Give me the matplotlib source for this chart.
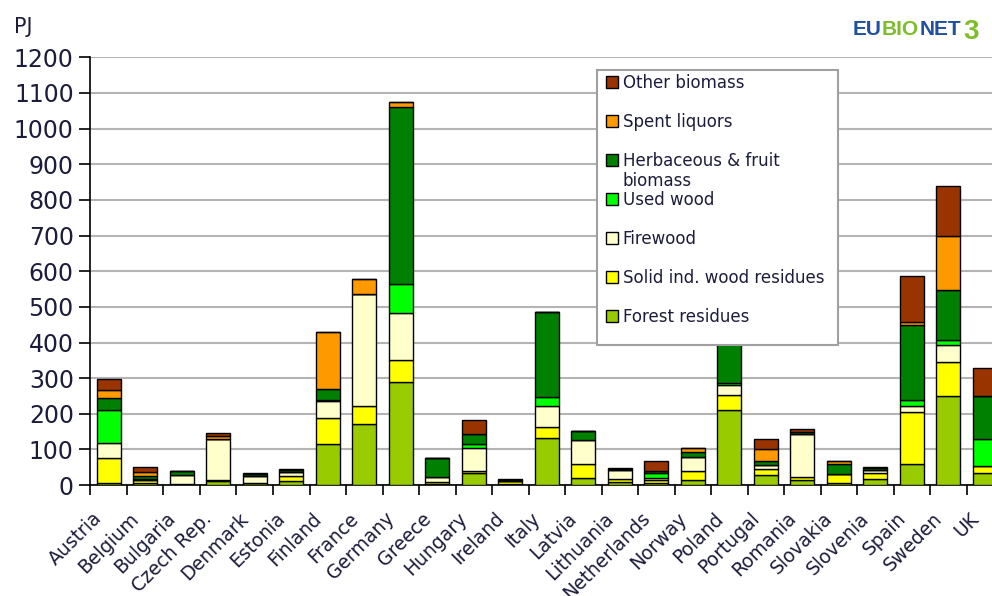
import numpy as np
import matplotlib.pyplot as plt
from matplotlib.patches import Rectangle
from matplotlib.transforms import ScaledTranslation

countries = ["Austria", "Belgium", "Bulgaria", "Czech Rep.", "Denmark", "Estonia", "Finland",
             "France", "Germany", "Greece", "Hungary", "Ireland", "Italy", "Latvia", "Lithuania",
             "Netherlands", "Norway", "Poland", "Portugal", "Romania", "Slovakia", "Slovenia",
             "Spain", "Sweden", "UK"]

# PJ per fuel type
forest = [5, 5, 2, 12, 6, 12, 115, 171, 290, 4, 33, 2, 133, 20, 8, 5, 14, 210, 28, 14, 5, 18, 60, 250, 34]
solid = [71, 10, 0, 2, 0, 14, 72, 50, 62, 4, 8, 10, 31, 38, 10, 10, 26, 43, 17, 8, 26, 16, 145, 95, 19]
firewood = [42, 0, 26, 114, 20, 12, 50, 316, 131, 15, 64, 0, 58, 68, 25, 4, 40, 28, 11, 122, 0, 9, 18, 47, 0]
used_wood = [94, 2, 0, 0, 0, 0, 3, 0, 81, 0, 9, 0, 24, 0, 0, 14, 0, 5, 0, 0, 0, 0, 16, 14, 77]
herbaceous = [32, 10, 13, 0, 5, 4, 31, 0, 495, 53, 29, 3, 240, 25, 2, 8, 13, 140, 13, 6, 27, 4, 209, 142, 120]
spent = [23, 11, 0, 10, 0, 0, 158, 40, 16, 0, 0, 0, 0, 0, 0, 0, 10, 0, 32, 0, 9, 0, 9, 150, 0]
other = [31, 12, 0, 7, 4, 4, 0, 0, 0, 0, 40, 2, 0, 0, 3, 28, 0, 0, 29, 8, 0, 4, 130, 142, 79]

series = [forest, solid, firewood, used_wood, herbaceous, spent, other]
# the herbaceous label wraps onto a second line ("biomass") added below
labels = ["Forest residues", "Solid ind. wood residues", "Firewood", "Used wood",
          "Herbaceous & fruit", "Spent liquors", "Other biomass"]
colors = ["#99cc00", "#ffff00", "#ffffcc", "#00ff00", "#008000", "#ff9900", "#993300"]

txt = "#1c1c3c"

fig = plt.figure(figsize=(9.92, 5.96), dpi=100)
ax = fig.add_axes([0.0912, 0.186, 0.92, 0.718])

x = np.arange(len(countries))
bottom = np.zeros(len(countries))
handles = []
for vals, lab, col in zip(series, labels, colors):
    b = ax.bar(x, vals, 0.66, bottom=bottom, color=col, edgecolor="black", linewidth=1.0,
               label=lab, zorder=3)
    handles.append(b)
    bottom += np.array(vals)

ax.set_xlim(-0.5, len(countries) - 0.5)
ax.set_ylim(0, 1200)
ax.set_yticks(range(0, 1201, 100))
ax.yaxis.grid(True, color="#b4b4b4", linewidth=1.5, zorder=0)
ax.set_axisbelow(True)

for s in ["top", "right"]:
    ax.spines[s].set_visible(False)
ax.spines["left"].set_linewidth(1.2)
ax.spines["bottom"].set_linewidth(1.2)

ax.tick_params(axis="y", direction="out", length=8, width=1.2, labelsize=17, labelcolor=txt, pad=4)
ax.set_xticks(x)
ax.set_xticks(np.arange(-0.5, len(countries), 1), minor=True)
ax.tick_params(axis="x", which="major", length=0, pad=17)
ax.tick_params(axis="x", which="minor", direction="out", length=7, width=1.2)
ax.set_xticklabels(countries, rotation=45, ha="right", rotation_mode="anchor",
                   fontsize=13.5, color=txt)
shift = ScaledTranslation(-16 / 100, 0, fig.dpi_scale_trans)
for t in ax.get_xticklabels():
    t.set_transform(t.get_transform() + shift)

# legend box drawn separately, it is taller than its entries
box = Rectangle((0.555, 0.327), 0.264, 0.643, transform=ax.transAxes, facecolor="white",
                edgecolor="#a0a0a0", linewidth=1.5, zorder=4)
ax.add_patch(box)
leg = ax.legend(handles[::-1], labels[::-1], loc="upper left", bbox_to_anchor=(0.555, 0.983),
                fontsize=12, frameon=False, labelspacing=1.26,
                handlelength=0.7, handleheight=0.7, handletextpad=0.3, borderpad=0.55,
                borderaxespad=0)
for t in leg.get_texts():
    t.set_color(txt)
leg.set_zorder(5)

fig.canvas.draw()
herb_txt = leg.get_texts()[2]
bb = herb_txt.get_window_extent()
fig.text(bb.x0 / fig.bbox.width, (bb.y0 - 20) / fig.bbox.height, "biomass",
         fontsize=12, color=txt, va="bottom", ha="left", zorder=6)

fig.text(0.014, 0.945, "PJ", fontsize=15, color=txt)

# logo
logo = dict(fontsize=15, fontweight="bold", family="Liberation Sans", va="baseline")
fig.text(0.859, 0.942, "EU", color="#1f4fa0", **logo)
fig.text(0.889, 0.942, "BIO", color="#7cbd2a", **logo)
fig.text(0.927, 0.942, "NET", color="#1f4fa0", **logo)
fig.text(0.971, 0.935, "3", color="#7cbd2a", fontsize=20, fontweight="bold",
         family="Liberation Sans", va="baseline")

fig.savefig("out.png", dpi=100)
